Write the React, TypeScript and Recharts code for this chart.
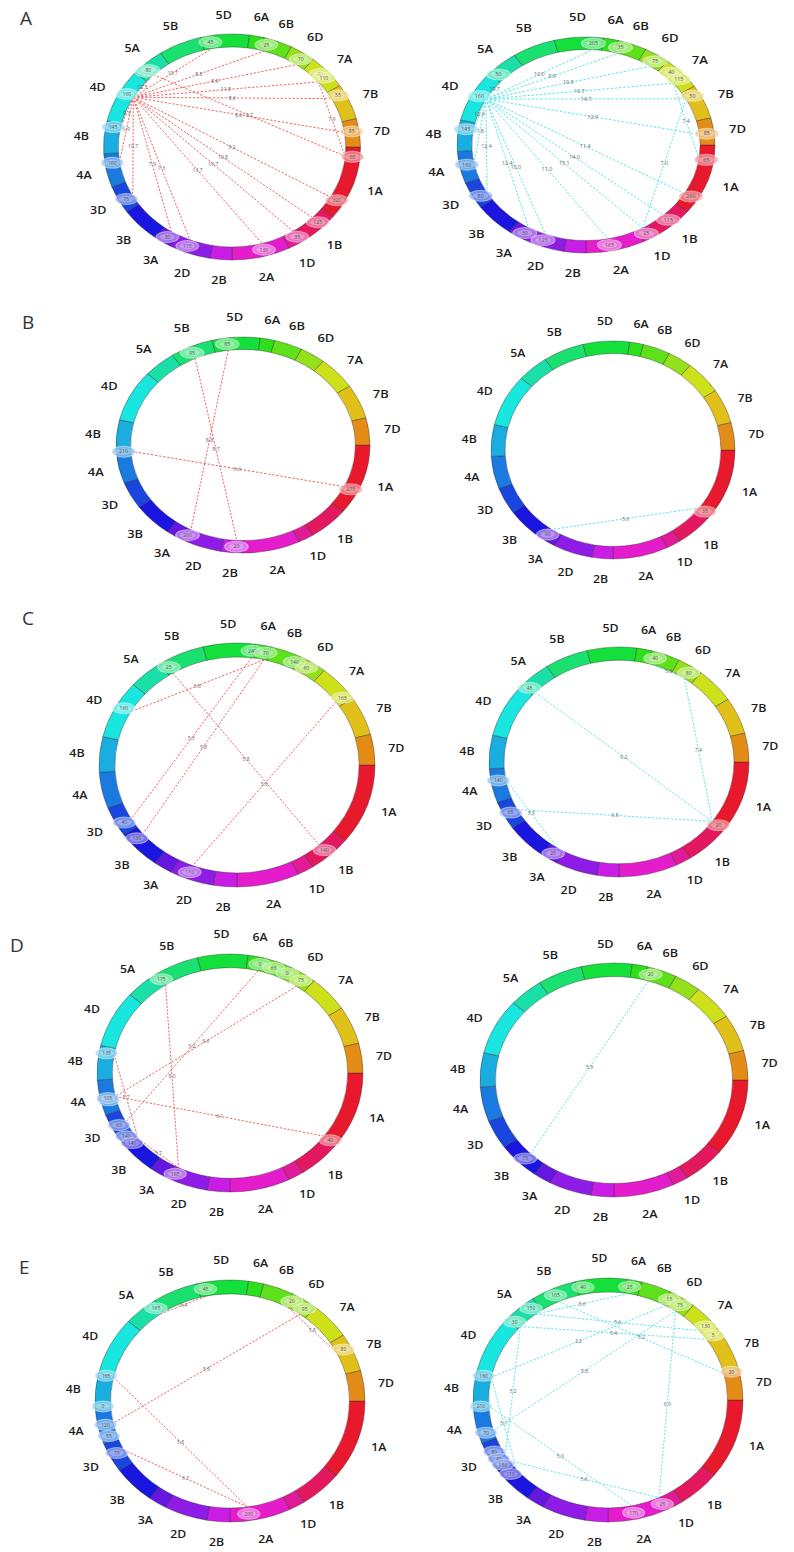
import React from 'react';
import { PieChart, Pie, Cell, ScatterChart, Scatter, XAxis, YAxis, ReferenceLine } from 'recharts';

// chromosome ring (clockwise from 3 o'clock), lengths in map units
const chromosomes = ['1A', '1B', '1D', '2A', '2B', '2D', '3A', '3B', '3D', '4A', '4B', '4D', '5A', '5B', '5D', '6A', '6B', '6D', '7A', '7B', '7D'];
const chrLengths = [392, 193, 72, 271, 103, 192, 82, 191, 148, 178, 174, 286, 155, 202, 228, 68, 135, 120, 184, 190, 150];
const chrColors = [
  '#e8192c', '#e3185f', '#e11a97', '#e41ccc', '#c91de6', '#8e1ce6', '#6516e0',
  '#1a16e0', '#1a46e0', '#1a7ae0', '#1aaee0', '#1ae6e0', '#1ae0a8', '#1ae070',
  '#14e03c', '#2ee01c', '#5ee01a', '#94e01a', '#cde01a', '#e2c01a', '#e38c18',
];

// [chromosome, position along chromosome (0-1), marker label]
type Marker = [string, number, string];
// [from marker, to marker, value]
type Link = [number, number, string];

const markersAL: Marker[] = [
  ['4D', 0.59, '160'], ['5D', 0.18, '45'], ['6B', 0.15, '25'], ['6D', 0.6, '70'], ['7A', 0.42, '40'],
  ['7A', 0.57, '110'], ['7B', 0.22, '55'], ['7D', 0.42, '85'], ['1A', 0.14, '65'], ['1A', 0.79, '320'],
  ['1B', 0.37, '125'], ['1D', 0.1, '35'], ['2A', 0.42, '130'], ['2D', 0.63, '115'], ['3A', 0.47, '30'],
  ['3D', 0.4, '75'], ['4A', 0.7, '160'], ['4B', 0.84, '145'], ['5A', 0.25, '75'], ['5A', 0.34, '80'],
];
const linksAL: Link[] = [
  [0, 1, '19.7'], [0, 2, '8.8'], [0, 3, '8.9'], [0, 5, '11.8'], [0, 6, '8.6'], [0, 7, '8.6'],
  [19, 8, '9.7'], [0, 9, '9.2'], [0, 10, '10.8'], [0, 11, '10.7'], [0, 12, '13.7'], [0, 13, '7.3'],
  [0, 14, '7.9'], [0, 15, '10.7'], [0, 16, '6.9'], [0, 17, '9.3'], [0, 18, '12.5'], [5, 8, '7.9'],
];

const markersAR: Marker[] = [
  ['4D', 0.55, '160'], ['5D', 0.8, '205'], ['6B', 0.15, '35'], ['6D', 0.6, '75'], ['7A', 0.3, '40'],
  ['7A', 0.59, '115'], ['7B', 0.22, '50'], ['7D', 0.56, '85'], ['1A', 0.22, '65'], ['1A', 0.8, '290'],
  ['1B', 0.5, '115'], ['1D', 0.51, '25'], ['2A', 0.58, '165'], ['2D', 0.58, '125'], ['3A', 0.21, '30'],
  ['3D', 0.35, '80'], ['4A', 0.55, '160'], ['4B', 0.73, '145'], ['5A', 0.18, '50'],
];
const linksAR: Link[] = [
  [0, 1, '10.0'], [0, 2, '9.9'], [0, 3, '10.9'], [0, 5, '10.7'], [0, 6, '14.7'], [0, 7, '12.9'],
  [0, 9, '11.4'], [0, 10, '14.0'], [0, 11, '15.1'], [0, 12, '11.0'], [0, 13, '10.0'], [0, 14, '12.4'],
  [0, 15, '12.4'], [0, 16, '7.8'], [0, 17, '12.6'], [0, 18, '19.7'], [5, 8, '7.4'], [6, 11, '7.0'],
];

const markersBL: Marker[] = [
  ['5B', 0.44, '95'], ['5D', 0.3, '85'], ['4A', 0.98, '210'], ['1A', 0.68, '275'], ['2D', 0.95, '200'], ['2B', 0.32, '20'],
];
const linksBL: Link[] = [[0, 5, '8.7'], [1, 4, '8.8'], [2, 3, '6.6']];

const markersBR: Marker[] = [['1A', 0.97, '35'], ['3A', 0.76, '90']];
const linksBR: Link[] = [[0, 1, '5.6']];

const markersCL: Marker[] = [
  ['5B', 0.11, '25'], ['5D', 0.95, '240'], ['6A', 0.74, '70'], ['6B', 0.9, '140'], ['6D', 0.4, '60'],
  ['7A', 0.84, '165'], ['4D', 0.58, '160'], ['3D', 0.35, '40'], ['3B', 0.75, '130'], ['2D', 0.61, '110'],
  ['1B', 0.52, '140'],
];
const linksCL: Link[] = [[0, 10, '5.8'], [2, 6, '5.8'], [1, 7, '5.5'], [2, 8, '5.8'], [5, 9, '5.6']];

const markersCR: Marker[] = [
  ['6B', 0.2, '40'], ['6D', 0.61, '80'], ['5A', 0.13, '45'], ['4A', 0.63, '140'], ['3D', 0.5, '65'],
  ['3A', 0.5, '25'], ['1A', 0.94, '20'],
];
const linksCR: Link[] = [[2, 6, '9.2'], [1, 6, '7.4'], [4, 6, '6.5'], [3, 5, '5.5'], [0, 1, '5.8']];

const markersDL: Marker[] = [
  ['5B', 0.03, '175'], ['6A', 0.9, '0'], ['6B', 0.45, '65'], ['6B', 0.97, '0'], ['6D', 0.59, '75'],
  ['4B', 0.8, '135'], ['4A', 0.38, '110'], ['4A', 0.45, '105'], ['3D', 0.51, '65'], ['3D', 0.05, '140'],
  ['3B', 0.8, '140'], ['2D', 0.86, '165'], ['1A', 0.97, '40'],
];
const linksDL: Link[] = [[0, 11, '8.0'], [1, 8, '5.2'], [4, 7, '5.6'], [7, 12, '6.1'], [5, 10, '5.7'], [10, 11, '5.7']];

const markersDR: Marker[] = [['6B', 0.18, '20'], ['3B', 0.44, '75']];
const linksDR: Link[] = [[0, 1, '5.9']];

const markersEL: Marker[] = [
  ['5D', 0.14, '45'], ['5A', 0.88, '165'], ['6D', 0.13, '20'], ['6D', 0.72, '95'], ['7B', 0.33, '80'],
  ['4B', 0.96, '165'], ['4B', 0.04, '0'], ['4A', 0.5, '120'], ['4A', 0.16, '55'], ['3D', 0.55, '75'],
  ['2A', 0.68, '200'],
];
const linksEL: Link[] = [[1, 0, '6.4'], [3, 7, '5.9'], [2, 4, '5.8'], [5, 10, '5.8'], [9, 10, '6.7']];

const markersER: Marker[] = [
  ['5D', 0.13, '40'], ['6A', 0.29, '25'], ['5B', 0.48, '105'], ['5A', 0.77, '150'], ['5A', 0.11, '30'],
  ['6D', 0.11, '15'], ['6D', 0.59, '75'], ['7A', 0.61, '130'], ['7A', 0.93, '5'], ['7D', 0.02, '20'],
  ['4B', 0.92, '160'], ['4B', 0.01, '210'], ['4A', 0.24, '70'], ['3D', 0.58, '80'], ['3D', 0.29, '40'],
  ['3D', 0.05, '150'], ['3B', 0.73, '110'], ['2A', 0.04, '25'], ['2A', 0.56, '170'],
];
const linksER: Link[] = [
  [3, 7, '5.6'], [4, 8, '5.4'], [2, 9, '5.2'], [10, 5, '3.2'], [12, 6, '5.8'], [6, 17, '6.9'],
  [11, 18, '5.0'], [15, 17, '5.6'], [4, 14, '5.2'], [10, 16, '5.1'], [3, 1, '5.6'],
];

const panelLetters = [
  { letter: 'A', x: 28, y: 18 },
  { letter: 'B', x: 30, y: 322 },
  { letter: 'C', x: 30, y: 618 },
  { letter: 'D', x: 18, y: 945 },
  { letter: 'E', x: 27, y: 1267 },
];

const RED = '#ef4646';
const CYAN = '#3fe0e6';

const panels = [
  { id: 'AL', markers: markersAL, links: linksAL, stroke: RED, cx: 231.5, cy: 147, rx: 128.5, ry: 113 },
  { id: 'AR', markers: markersAR, links: linksAR, stroke: CYAN, cx: 586, cy: 144.5, rx: 129, ry: 108 },
  { id: 'BL', markers: markersBL, links: linksBL, stroke: RED, cx: 243, cy: 445, rx: 127, ry: 108 },
  { id: 'BR', markers: markersBR, links: linksBR, stroke: CYAN, cx: 613, cy: 450, rx: 122, ry: 109 },
  { id: 'CL', markers: markersCL, links: linksCL, stroke: RED, cx: 237, cy: 765, rx: 138, ry: 122 },
  { id: 'CR', markers: markersCR, links: linksCR, stroke: CYAN, cx: 619, cy: 762, rx: 130, ry: 115 },
  { id: 'DL', markers: markersDL, links: linksDL, stroke: RED, cx: 230, cy: 1073, rx: 133, ry: 119 },
  { id: 'DR', markers: markersDR, links: linksDR, stroke: CYAN, cx: 614, cy: 1080, rx: 134, ry: 117 },
  { id: 'EL', markers: markersEL, links: linksEL, stroke: RED, cx: 230, cy: 1401, rx: 135, ry: 121 },
  { id: 'ER', markers: markersER, links: linksER, stroke: CYAN, cx: 608, cy: 1400, rx: 135, ry: 122 },
];

const BOX = 340;
const C = BOX / 2;
const TOTAL = chrLengths.reduce((a, b) => a + b, 0);
const chrStart = chrLengths.map((_, i) => chrLengths.slice(0, i).reduce((a, b) => a + b, 0));
const ringData = chromosomes.map((name, i) => ({ name, len: chrLengths[i] }));
const FONT = "'Open Sans', 'DejaVu Sans', sans-serif";

function polar(m: Marker, r: number) {
  const i = chromosomes.indexOf(m[0]);
  const a = ((chrStart[i] + m[1] * chrLengths[i]) / TOTAL) * 2 * Math.PI;
  return { x: r * Math.cos(a), y: -r * Math.sin(a) };
}

const renderChrLabel = (p: any) => {
  const RAD = Math.PI / 180;
  const r = p.outerRadius + 20;
  const x = p.cx + r * Math.cos(-p.midAngle * RAD);
  const y = p.cy + r * Math.sin(-p.midAngle * RAD);
  return (
    <text x={x} y={y} textAnchor="middle" dominantBaseline="central" fontSize={11} fontWeight={600} fill="#1c1c1c" fontFamily={FONT}>
      {chromosomes[p.index]}
    </text>
  );
};

const renderMarker = (p: any) => {
  const { cx, cy, payload } = p;
  return (
    <g>
      <ellipse cx={cx} cy={cy} rx={10} ry={5.5} fill={payload.color} fillOpacity={0.55} />
      <ellipse cx={cx} cy={cy} rx={10} ry={5.5} fill="#fff" fillOpacity={0.4} stroke="#fff" strokeOpacity={0.45} strokeWidth={1} />
      <ellipse cx={cx} cy={cy} rx={6.5} ry={3.2} fill="#fff" fillOpacity={0.25} />
      <text x={cx} y={cy} textAnchor="middle" dominantBaseline="central" fontSize={4.5} fill="#555" fontFamily={FONT}>
        {payload.label}
      </text>
    </g>
  );
};

const renderLinkLabel = (p: any) => (
  <text x={p.cx} y={p.cy} textAnchor="middle" dominantBaseline="central" fontSize={4.5} fill="#666" fontFamily={FONT}>
    {p.payload.label}
  </text>
);

function Circos({ markers, links, stroke, cx, cy, rx, ry }: any) {
  const inner = ry * 0.885;
  const mid = (ry + inner) / 2;
  const markerData = markers.map((m: Marker) => ({
    ...polar(m, mid),
    label: m[2],
    color: chrColors[chromosomes.indexOf(m[0])],
  }));
  const chords = links.map((l: Link) => {
    const a = polar(markers[l[0]], inner);
    const b = polar(markers[l[1]], inner);
    return { a, b, label: l[2] };
  });
  const chordLabels = chords.map((c: any) => ({ x: (c.a.x + c.b.x) / 2, y: (c.a.y + c.b.y) / 2, label: c.label }));

  return (
    <div
      style={{
        position: 'absolute',
        left: cx - C,
        top: cy - C,
        width: BOX,
        height: BOX,
        transform: `scaleX(${rx / ry})`,
        transformOrigin: `${C}px ${C}px`,
      }}
    >
      <div style={{ position: 'absolute', left: 0, top: 0 }}>
        <PieChart width={BOX} height={BOX} margin={{ top: 0, right: 0, bottom: 0, left: 0 }}>
          <Pie
            data={ringData}
            dataKey="len"
            cx={C}
            cy={C}
            innerRadius={inner}
            outerRadius={ry}
            startAngle={0}
            endAngle={-360}
            paddingAngle={0}
            label={renderChrLabel}
            labelLine={false}
            isAnimationActive={false}
          >
            {ringData.map((d, i) => (
              <Cell key={d.name} fill={chrColors[i]} stroke="rgba(40,40,40,0.45)" strokeWidth={0.8} />
            ))}
          </Pie>
        </PieChart>
      </div>
      <div style={{ position: 'absolute', left: 0, top: 0 }}>
        <ScatterChart width={BOX} height={BOX} margin={{ top: 0, right: 0, bottom: 0, left: 0 }}>
          <XAxis type="number" dataKey="x" domain={[-C, C]} allowDataOverflow hide />
          <YAxis type="number" dataKey="y" domain={[-C, C]} allowDataOverflow hide />
          {chords.map((c: any, i: number) => (
            <ReferenceLine
              key={i}
              segment={[c.a, c.b]}
              stroke={stroke}
              strokeWidth={0.8}
              strokeDasharray="2 1.5"
              ifOverflow="visible"
            />
          ))}
          <Scatter data={chordLabels} shape={renderLinkLabel} isAnimationActive={false} />
          <Scatter data={markerData} shape={renderMarker} isAnimationActive={false} />
        </ScatterChart>
      </div>
    </div>
  );
}

export default function App() {
  return (
    <div style={{ position: 'absolute', left: 0, top: 0, width: 794, height: 1552, background: '#fff' }}>
      {panelLetters.map((p) => (
        <div
          key={p.letter}
          style={{
            position: 'absolute',
            left: p.x - 8,
            top: p.y - 13,
            fontFamily: FONT,
            fontSize: 19,
            color: '#333',
            lineHeight: '26px',
          }}
        >
          {p.letter}
        </div>
      ))}
      {panels.map((p) => (
        <Circos key={p.id} {...p} />
      ))}
    </div>
  );
}
